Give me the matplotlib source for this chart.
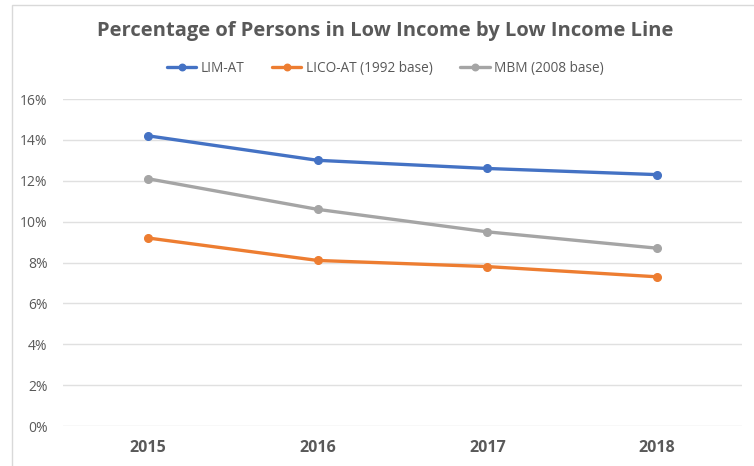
import matplotlib
matplotlib.use("Agg")
import matplotlib.pyplot as plt
from matplotlib.patches import Rectangle
from matplotlib.ticker import FuncFormatter

years = ["2015", "2016", "2017", "2018"]
lim_at = [14.2, 13.0, 12.6, 12.3]
lico_at = [9.2, 8.1, 7.8, 7.3]
mbm = [12.1, 10.6, 9.5, 8.7]
series_names = ["LIM-AT", "LICO-AT (1992 base)", "MBM (2008 base)"]
colors = ["#4472C4", "#ED7D31", "#A5A5A5"]

plt.rcParams['font.family'] = ['Open Sans', 'DejaVu Sans']
W, H = 754, 466
fig = plt.figure(figsize=(W / 100, H / 100), dpi=100)
fig.patch.set_facecolor("white")

# chart border (partially cropped)
fig.add_artist(Rectangle((12 / W, -0.1), 1.2, (H - 5) / H + 0.1, transform=fig.transFigure,
                         fill=False, edgecolor="#D9D9D9", linewidth=1.0))

ax = fig.add_axes([63 / W, 40 / H, (742 - 63) / W, (426 - 99) / H])
x = list(range(len(years)))
for vals, name, c in zip([lim_at, lico_at, mbm], series_names, colors):
    ax.plot(x, [v / 100 for v in vals], color=c, lw=2.4, marker="o", ms=5.5,
            label=name, solid_capstyle="round")

ax.set_xlim(-0.5, len(years) - 0.5)
ax.set_ylim(0, 0.16)
ax.set_yticks([i / 100 for i in range(0, 17, 2)])
ax.yaxis.set_major_formatter(FuncFormatter(lambda v, p: f"{v*100:.0f}%"))
ax.set_xticks(x)
ax.set_xticklabels(years, fontweight="bold", fontsize=11.5, color="#595959")
ax.tick_params(axis="y", labelsize=10, colors="#595959", length=0, pad=11)
ax.tick_params(axis="x", length=0, pad=10)
ax.grid(axis="y", color="#E0E0E0", lw=1)
ax.set_axisbelow(True)
for s in ax.spines.values():
    s.set_visible(False)

fig.text(385 / W, 1 - 31 / H, "Percentage of Persons in Low Income by Low Income Line",
         ha="center", va="center", fontsize=14.5, fontweight="bold", color="#595959")

leg = fig.legend(loc="center", bbox_to_anchor=(385 / W, 1 - 68 / H), ncol=3, frameon=False,
                 fontsize=9.8, handlelength=2.2, columnspacing=2.0, handletextpad=0.3,
                 markerscale=0.85)
for t in leg.get_texts():
    t.set_color("#595959")

fig.savefig("out.png", dpi=100, facecolor="white")
